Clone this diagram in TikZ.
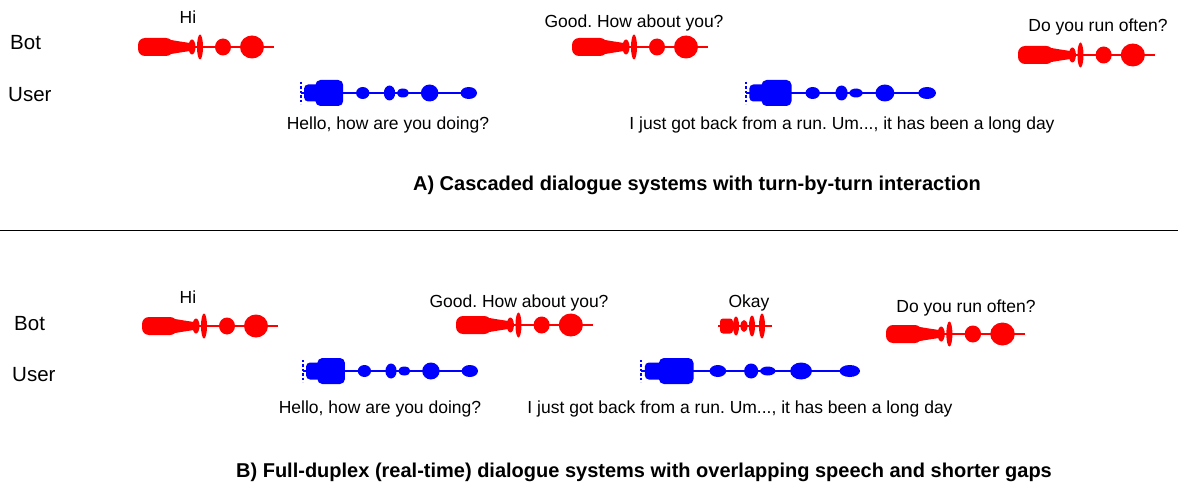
\documentclass[tikz,border=0pt]{standalone}
\usepackage{fontspec}
\setmainfont{Liberation Sans}
\frenchspacing
\definecolor{wred}{RGB}{255,0,0}
\definecolor{wblue}{RGB}{0,0,255}
\newcommand{\redwave}[3]{%
  \begin{scope}[shift={(#1,#2)},xscale=#3/136,wred]
    \fill (0,-1.1) rectangle (136,1.1);
    \fill[rounded corners=7] (0,-9) rectangle (35,9);
    \fill (30,-7.5) .. controls (42,-5.5) .. (52,-4) -- (52,4) .. controls (42,5.5) .. (30,7.5) -- cycle;
    \fill (54,0) ellipse (3.5 and 7.5);
    \fill (62,0) ellipse (3 and 12.5);
    \fill (85,0) ellipse (8 and 8.5);
    \fill (114,0) ellipse (12 and 11.5);
  \end{scope}}
\newcommand{\bluewave}[3]{%
  \begin{scope}[shift={(#1,#2)},xscale=#3/171,wblue]
    \draw[line width=2.6pt,dash pattern=on 2.4pt off 2pt] (0,-11) -- (0,11);
    \fill (0,-1.1) rectangle (171,1.1);
    \fill[rounded corners=4] (3,-8.5) rectangle (18,8.5);
    \fill[rounded corners=5] (14,-13) rectangle (41,13);
    \fill (60,0) ellipse (6.5 and 6);
    \fill (86,0) ellipse (5.5 and 7.5);
    \fill (99,0) ellipse (6 and 4.5);
    \fill (125,0) ellipse (8.5 and 8.5);
    \fill (163,0) ellipse (8 and 6);
  \end{scope}}
\begin{document}
\begin{tikzpicture}[x=1pt,y=-1pt,
  lab/.style={font=\fontsize{17.5}{20}\selectfont,anchor=base,inner sep=0pt},
  who/.style={font=\fontsize{20.5}{23}\selectfont,anchor=base west,inner sep=0pt},
  ttl/.style={font=\fontsize{20}{23}\selectfont\bfseries,anchor=base,inner sep=0pt}]
\useasboundingbox[fill=white] (0,0) rectangle (1178,484);
% ---- Part A ----
\node[who] (botA) at (10,50) {Bot};
\node[who] (userA) at (8,102) {User};
\redwave{138}{47}{136}
\redwave{572}{47}{136}
\redwave{1018}{55}{137}
\bluewave{301}{93}{176}
\bluewave{746}{93}{190}
\node[lab] (hiA) at (188,24) {Hi};
\node[lab] (goodA) at (634,28) {Good. How about you?};
\node[lab] (runA) at (1098,32) {Do you run often?};
\node[lab] (helloA) at (388,130) {Hello, how are you doing?};
\node[lab] (backA) at (842,130) {I just got back from a run. Um..., it has been a long day};
\node[ttl] (titleA) at (697,190) {A) Cascaded dialogue systems with turn-by-turn interaction};
% separator
\coordinate (sepL) at (0,230);
\coordinate (sepR) at (1178,230);
\draw[line width=1pt] (sepL) -- (sepR);
% ---- Part B ----
\node[who] (botB) at (14,330) {Bot};
\node[who] (userB) at (12,381) {User};
\redwave{142}{326}{136}
\redwave{456}{325}{137}
\redwave{886}{334}{139}
\begin{scope}[shift={(718,326)},wred]
  \fill (0,-1) rectangle (54,1);
  \fill[rounded corners=3] (2,-7.5) rectangle (15,7.5);
  \fill (18,0) ellipse (3 and 9.5);
  \fill (26,0) ellipse (3.5 and 6);
  \fill (34,0) ellipse (3 and 10.5);
  \fill (44,0) ellipse (3 and 12.5);
\end{scope}
\bluewave{303}{371}{175}
\bluewave{641}{371}{219}
\node[lab] (hiB) at (188,303) {Hi};
\node[lab] (goodB) at (519,307) {Good. How about you?};
\node[lab] (okB) at (749,307) {Okay};
\node[lab] (runB) at (966,312) {Do you run often?};
\node[lab] (helloB) at (380,413) {Hello, how are you doing?};
\node[lab] (backB) at (740,413) {I just got back from a run. Um..., it has been a long day};
\node[ttl] (titleB) at (644,477) {B) Full-duplex (real-time) dialogue systems with overlapping speech and shorter gaps};
\end{tikzpicture}
\end{document}
